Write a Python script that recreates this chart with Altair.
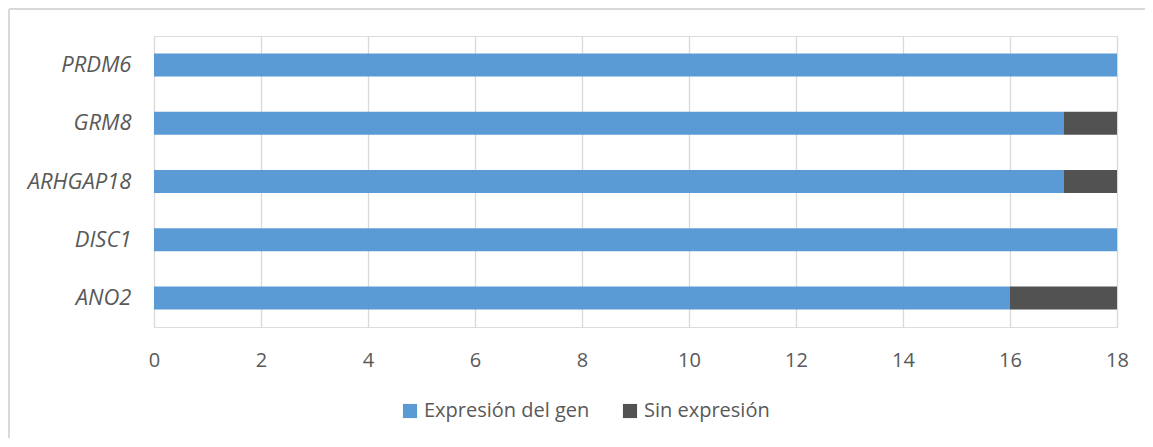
import altair as alt
import pandas as pd

genes = ["PRDM6", "GRM8", "ARHGAP18", "DISC1", "ANO2"]
expresion = [18, 17, 17, 18, 16]
sin_expresion = [0, 1, 1, 0, 2]
series = ["Expresión del gen", "Sin expresión"]
colors = ["#5B9BD5", "#525252"]
x_ticks = [0, 2, 4, 6, 8, 10, 12, 14, 16, 18]

rows = []
for g, e, s in zip(genes, expresion, sin_expresion):
    rows.append({"gen": g, "serie": series[0], "valor": e, "orden": 0})
    rows.append({"gen": g, "serie": series[1], "valor": s, "orden": 1})
df = pd.DataFrame(rows)

W, H = 963, 291
FONT = "Open Sans"

bars = alt.Chart(df).mark_bar(size=23).encode(
    x=alt.X("valor:Q", stack="zero",
            scale=alt.Scale(domain=[0, 18], nice=False),
            axis=alt.Axis(values=x_ticks, title=None, grid=True, gridColor="#d9d9d9",
                          gridWidth=1.3, domain=False, ticks=False, labelPadding=23,
                          labelFlush=False,
                          labelFontSize=20, labelColor="#595959", labelFont=FONT)),
    y=alt.Y("gen:N", sort=genes,
            scale=alt.Scale(paddingInner=0.6, paddingOuter=0.3),
            axis=alt.Axis(title=None, domain=False, ticks=False, grid=False,
                          labelPadding=23, labelFontSize=22, labelFontStyle="italic",
                          labelColor="#595959", labelFont=FONT)),
    color=alt.Color("serie:N", sort=series,
                    scale=alt.Scale(domain=series, range=colors),
                    legend=alt.Legend(title=None, orient="none", direction="horizontal",
                                      legendX=246, legendY=365, symbolType="square",
                                      symbolSize=200, symbolStrokeWidth=0,
                                      labelFontSize=20, labelColor="#595959", labelFont=FONT,
                                      labelLimit=400, columnPadding=30, labelOffset=4)),
    order=alt.Order("orden:Q"),
)

frame_left = alt.Chart(df).mark_rule(color="#d9d9d9", strokeWidth=1.5).encode(
    x=alt.value(-145), y=alt.value(-27), y2=alt.value(H + 140),
)
frame_top = alt.Chart(df).mark_rule(color="#d9d9d9", strokeWidth=1.5).encode(
    y=alt.value(-27), x=alt.value(-145), x2=alt.value(W + 60),
)

chart = alt.layer(frame_left, frame_top, bars).properties(
    width=W, height=H,
    autosize=alt.AutoSizeParams(type="none"),
    padding={"left": 146, "top": 28, "right": 28, "bottom": 111},
).configure_view(stroke=None).configure(background="white")

chart.save("out.html", embed_options={"renderer": "svg", "actions": False})
